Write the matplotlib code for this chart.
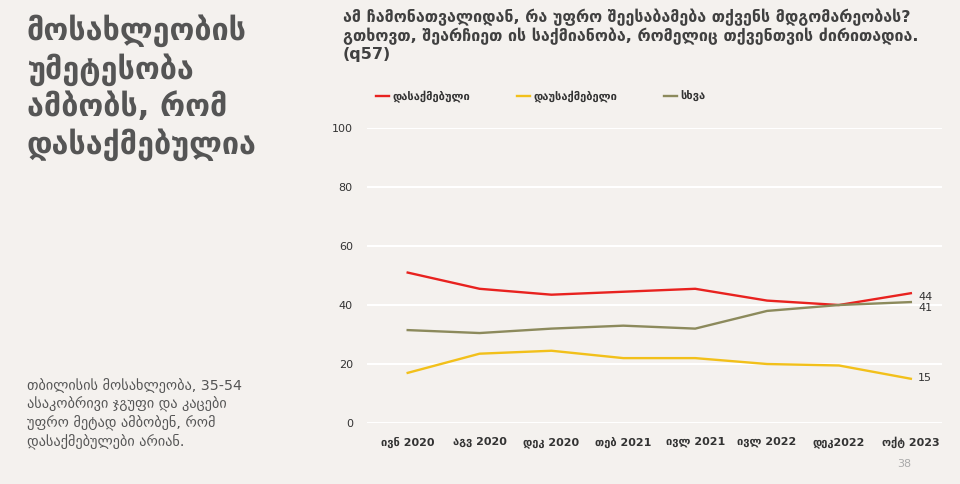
import matplotlib.pyplot as plt

plt.rcParams['font.family'] = ['DejaVu Sans']

periods = ['ივნ 2020', 'აგვ 2020', 'დეკ 2020', 'თებ 2021', 'ივლ 2021',
           'ივლ 2022', 'დეკ2022', 'ოქტ 2023']
employed = [51, 45.5, 43.5, 44.5, 45.5, 41.5, 40, 44]
unemployed = [17, 23.5, 24.5, 22, 22, 20, 19.5, 15]
other = [31.5, 30.5, 32, 33, 32, 38, 40, 41]

labels = ['დასაქმებული', 'დაუსაქმებელი', 'სხვა']
colors = ['#e8221f', '#f2c01a', '#8c8a5c']

bg = '#f4f1ee'
fig = plt.figure(figsize=(9.6, 4.84), dpi=100, facecolor=bg)
ax = fig.add_axes([0.382, 0.126, 0.599, 0.6095], facecolor=bg)

x = range(len(periods))
for series, lab, col in zip([employed, unemployed, other], labels, colors):
    ax.plot(x, series, color=col, linewidth=1.7, label=lab, clip_on=False)

# end labels
ax.text(7.1, employed[-1] - 1.2, '44', fontsize=8, color='#333333', va='center')
ax.text(7.1, other[-1] - 2.0, '41', fontsize=8, color='#333333', va='center')
ax.text(7.1, unemployed[-1] + 0.3, '15', fontsize=8, color='#333333', va='center')

ax.set_ylim(0, 100)
ax.set_xlim(-0.57, 7.43)
ax.set_yticks(range(0, 101, 20))
ax.set_xticks(list(x))
ax.set_xticklabels(periods, fontsize=8, fontweight='bold', color='#333333')
ax.tick_params(axis='y', labelsize=8, colors='#333333', length=0, pad=10)
ax.tick_params(axis='x', length=0, pad=10)
ax.grid(axis='y', color='white', linewidth=1.5)
ax.set_axisbelow(True)
for s in ax.spines.values():
    s.set_visible(False)

leg = fig.legend(loc='center left', bbox_to_anchor=(0.381, 0.801), ncol=3,
                 frameon=False, handlelength=1.2, handletextpad=0.3,
                 columnspacing=4.2, prop={'size': 8, 'weight': 'bold'})
for t in leg.get_texts():
    t.set_color('#333333')

# headline and notes
fig.text(0.028, 0.97, 'მოსახლეობის\nუმეტესობა\nამბობს, რომ\nდასაქმებულია',
         fontsize=22, fontweight='bold', color='#555555', va='top',
         linespacing=1.25)
fig.text(0.357, 0.982,
         'ამ ჩამონათვალიდან, რა უფრო შეესაბამება თქვენს მდგომარეობას?\n'
         'გთხოვთ, შეარჩიეთ ის საქმიანობა, რომელიც თქვენთვის ძირითადია.\n(q57)',
         fontsize=11.5, fontweight='bold', color='#404040', va='top',
         linespacing=1.15)
fig.text(0.028, 0.218,
         'თბილისის მოსახლეობა, 35-54\nასაკობრივი ჯგუფი და კაცები\n'
         'უფრო მეტად ამბობენ, რომ\nდასაქმებულები არიან.',
         fontsize=10.3, color='#555555', va='top', linespacing=1.25)
fig.text(0.949, 0.036, '38', fontsize=8, color='#aaaaaa', ha='right')

fig.savefig('out.png', dpi=100, facecolor=bg)
